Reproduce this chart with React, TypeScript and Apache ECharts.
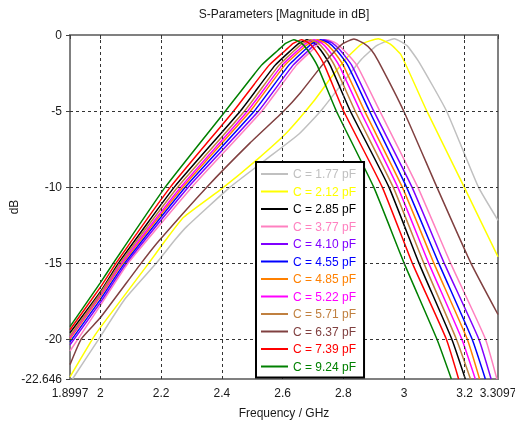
import React, { useEffect, useRef } from "react";
import * as echarts from "echarts";

const FONT = '"Liberation Sans", Arial, sans-serif';

const seriesNames = [
  "C = 1.77 pF", "C = 2.12 pF", "C = 2.85 pF", "C = 3.77 pF",
  "C = 4.10 pF", "C = 4.55 pF", "C = 4.85 pF", "C = 5.22 pF",
  "C = 5.71 pF", "C = 6.37 pF", "C = 7.39 pF", "C = 9.24 pF",
];
const seriesColors = [
  "#c0c0c0", "#ffff00", "#000000", "#ff80c0",
  "#8000ff", "#0000ff", "#ff8000", "#ff00ff",
  "#c08040", "#804040", "#ff0000", "#008000",
];

const xTicks = [1.8997, 2, 2.2, 2.4, 2.6, 2.8, 3, 3.2, 3.3097];
const xGrid = [2, 2.2, 2.4, 2.6, 2.8, 3, 3.2];
const yTicks = [0, -5, -10, -15, -20, -22.646];
const yGrid = [-5, -10, -15, -20];

// [frequency GHz, magnitude dB]
const c177 = [[1.908,-22.646],[1.995,-20],[2.08,-17.4],[2.185,-15],[2.245,-13.5],[2.285,-12.6],[2.428,-10],[2.545,-8.2],[2.655,-6.5],[2.73,-4.9],[2.80,-3.1],[2.86,-1.6],[2.91,-0.7],[2.968,-0.24],[3.01,-0.7],[3.05,-1.8],[3.14,-5],[3.245,-10],[3.3097,-12.2]];
const c212 = [[1.8997,-22.5],[1.974,-20],[2.0,-19.25],[2.160,-15],[2.215,-13.5],[2.274,-12],[2.401,-10.1],[2.516,-8.2],[2.615,-6.4],[2.701,-4.4],[2.760,-2.8],[2.812,-1.5],[2.86,-0.6],[2.915,-0.24],[2.955,-0.6],[2.99,-1.3],[3.075,-5],[3.198,-10],[3.3097,-14.6]];
const c285 = [[1.8997,-19.6],[2.0,-16.9],[2.060,-15],[2.244,-10],[2.461,-5],[2.575,-2],[2.628,-1],[2.654,-0.55],[2.680,-0.32],[2.703,-0.5],[2.726,-1],[2.757,-2],[2.823,-5],[2.950,-10],[3.049,-15],[3.157,-20],[3.202,-22.646]];
const c377 = [[1.8997,-20.8],[2.0,-17.8],[2.092,-15],[2.302,-10],[2.532,-5],[2.645,-2],[2.697,-1],[2.721,-0.55],[2.746,-0.32],[2.773,-0.5],[2.802,-1],[2.845,-2],[2.920,-5],[3.045,-10],[3.153,-15],[3.268,-20],[3.306,-22.646]];
const c410 = [[1.8997,-20.4],[2.0,-17.6],[2.086,-15],[2.290,-10],[2.521,-5],[2.634,-2],[2.686,-1],[2.710,-0.55],[2.736,-0.32],[2.762,-0.5],[2.790,-1],[2.828,-2],[2.900,-5],[3.026,-10],[3.132,-15],[3.246,-20],[3.287,-22.646]];
const c455 = [[1.8997,-20.2],[2.0,-17.4],[2.080,-15],[2.280,-10],[2.507,-5],[2.620,-2],[2.672,-1],[2.698,-0.55],[2.725,-0.32],[2.751,-0.5],[2.778,-1],[2.815,-2],[2.886,-5],[3.008,-10],[3.114,-15],[3.224,-20],[3.268,-22.646]];
const c485 = [[1.8997,-20.0],[2.0,-17.2],[2.074,-15],[2.272,-10],[2.494,-5],[2.607,-2],[2.660,-1],[2.687,-0.55],[2.714,-0.32],[2.739,-0.5],[2.765,-1],[2.800,-2],[2.870,-5],[2.994,-10],[3.098,-15],[3.208,-20],[3.249,-22.646]];
const c522 = [[1.8997,-19.9],[2.0,-17.1],[2.070,-15],[2.265,-10],[2.485,-5],[2.598,-2],[2.651,-1],[2.677,-0.55],[2.703,-0.32],[2.727,-0.5],[2.752,-1],[2.786,-2],[2.856,-5],[2.979,-10],[3.081,-15],[3.190,-20],[3.235,-22.646]];
const c571 = [[1.8997,-19.8],[2.0,-17.0],[2.065,-15],[2.255,-10],[2.475,-5],[2.588,-2],[2.640,-1],[2.666,-0.55],[2.692,-0.32],[2.715,-0.5],[2.739,-1],[2.771,-2],[2.839,-5],[2.964,-10],[3.065,-15],[3.172,-20],[3.219,-22.646]];
const c637 = [[1.8997,-21.7],[1.937,-20],[2.0,-18.6],[2.135,-15],[2.195,-13.5],[2.351,-10],[2.493,-7.1],[2.604,-5],[2.659,-3.8],[2.73,-2],[2.775,-1],[2.80,-0.55],[2.835,-0.26],[2.868,-0.55],[2.893,-1],[2.915,-1.7],[2.999,-5],[3.108,-10],[3.22,-15],[3.3097,-18.4]];
const c739 = [[1.8997,-19.4],[2.0,-16.6],[2.052,-15],[2.231,-10],[2.439,-5],[2.555,-2],[2.610,-1],[2.635,-0.55],[2.662,-0.32],[2.685,-0.5],[2.708,-1],[2.738,-2],[2.801,-5],[2.928,-10],[3.027,-15],[3.139,-20],[3.180,-22.646]];
const c924 = [[1.8997,-19.2],[2.0,-16.3],[2.043,-15],[2.214,-10],[2.412,-5],[2.530,-2],[2.585,-1],[2.610,-0.55],[2.637,-0.32],[2.660,-0.5],[2.683,-1],[2.714,-2],[2.777,-5],[2.900,-10],[3.000,-15],[3.108,-20],[3.156,-22.646]];

const seriesData = [c177, c212, c285, c377, c410, c455, c485, c522, c571, c637, c739, c924];

export default function App() {
  const ref = useRef<HTMLDivElement>(null);
  useEffect(() => {
    if (!ref.current) return;
    const chart = echarts.init(ref.current, undefined, { renderer: "svg" });
    const axisLine = { show: true, lineStyle: { color: "#808080", width: 2 } };
    const gridStyle = { type: [3, 3] as any, color: "#333", width: 1 };
    const lineSeries = seriesData.map((d, i) => ({
      name: seriesNames[i],
      type: "line",
      data: d,
      showSymbol: false,
      symbol: "none",
      smooth: 0.15,
      lineStyle: { color: seriesColors[i], width: 1.5 },
      itemStyle: { color: seriesColors[i] },
      z: 3,
    }));
    chart.setOption({
      animation: false,
      textStyle: { fontFamily: FONT },
      grid: {
        left: 70, right: 17, top: 35, bottom: 45,
        containLabel: false, outerBoundsMode: "none",
        show: true, borderColor: "#808080", borderWidth: 2, backgroundColor: "#fff",
      },
      graphic: [
        {
          type: "text", x: 284, y: 14,
          style: { text: "S-Parameters [Magnitude in dB]", font: `12px ${FONT}`, fill: "#1a1a1a", align: "center", verticalAlign: "middle" },
        },
        {
          type: "text", x: 14, y: 207, rotation: Math.PI / 2,
          style: { text: "dB", font: `12px ${FONT}`, fill: "#1a1a1a", align: "center", verticalAlign: "middle" },
        },
      ],
      legend: {
        orient: "vertical", left: 256, top: 162,
        itemWidth: 27, itemHeight: 2, itemGap: 5.5, icon: "rect",
        borderColor: "#000", borderWidth: 2, backgroundColor: "#fff",
        padding: [6, 8, 5, 5], selectedMode: false,
        textStyle: { fontFamily: FONT, fontSize: 12 },
        data: seriesNames.map((n, i) => ({ name: n, textStyle: { color: seriesColors[i] } })),
        z: 10,
      },
      xAxis: {
        type: "value", min: 1.8997, max: 3.3097,
        name: "Frequency / GHz", nameLocation: "middle", nameGap: 28,
        nameTextStyle: { fontFamily: FONT, fontSize: 12, color: "#1a1a1a" },
        axisLine,
        axisTick: { show: true, length: 4, customValues: xTicks, lineStyle: { color: "#404040" } },
        axisLabel: { customValues: xTicks, fontFamily: FONT, fontSize: 12, color: "#1a1a1a", margin: 8, formatter: (v: number) => String(v) },
        splitLine: { show: false },
      },
      yAxis: {
        type: "value", min: -22.646, max: 0,
        axisLine,
        axisTick: { show: true, length: 4, customValues: yTicks, lineStyle: { color: "#404040" } },
        axisLabel: { customValues: yTicks, fontFamily: FONT, fontSize: 12, color: "#1a1a1a", margin: 8, formatter: (v: number) => String(v) },
        splitLine: { show: false },
      },
      series: [
        {
          name: "grid", type: "line", data: [], symbol: "none", z: 1,
          markLine: {
            silent: true, symbol: "none", label: { show: false },
            lineStyle: gridStyle, animation: false,
            data: [
              ...xGrid.map((v) => ({ xAxis: v })),
              ...yGrid.map((v) => ({ yAxis: v })),
            ],
          },
        },
        ...lineSeries,
      ],
    });
    return () => chart.dispose();
  }, []);
  return <div ref={ref} style={{ position: "fixed", left: 0, top: 0, width: 515, height: 424 }} />;
}
